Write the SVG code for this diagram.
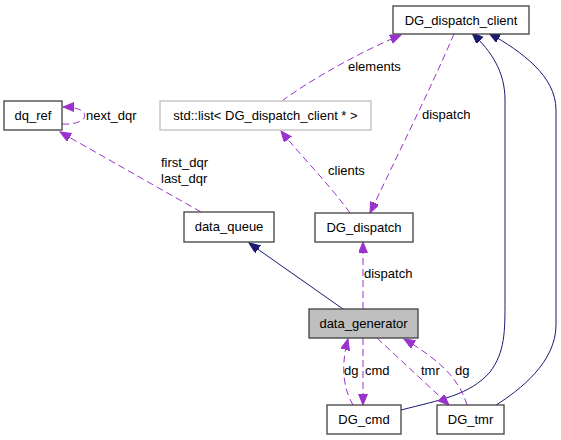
<svg xmlns="http://www.w3.org/2000/svg" width="561" height="440" viewBox="0 0 561 440">
<style>
.node rect{fill:#ffffff;stroke:#404040;stroke-width:1.3}
.node text,.lbl{font-family:"Liberation Sans",Arial,sans-serif;font-size:13px;fill:#000000}
.node text{text-anchor:middle}
.dash{fill:none;stroke:#9a32cd;stroke-width:1;stroke-dasharray:7,4;marker-end:url(#ap)}
.inh{fill:none;stroke:#191970;stroke-width:1;marker-end:url(#an)}
</style>
<defs>
<marker id="ap" markerUnits="userSpaceOnUse" markerWidth="12" markerHeight="10" refX="11" refY="4.5" orient="auto">
<path d="M0,0 L11,4.5 L0,9 z" fill="#9a32cd" stroke="#9a32cd"/>
</marker>
<marker id="an" markerUnits="userSpaceOnUse" markerWidth="12" markerHeight="10" refX="11" refY="4.5" orient="auto">
<path d="M0,0 L11,4.5 L0,9 z" fill="#191970" stroke="#191970"/>
</marker>
</defs>
<rect width="561" height="440" fill="#ffffff"/>
<g id="connectors">
<path class="dash" d="M201,212 L60,132"/>
<path class="dash" d="M62,124 C76,125 88,120 84,113 C81,109 74,107 63,107"/>
<path class="dash" d="M282,101 C310,80 360,52 401,35"/>
<path class="dash" d="M454,34 C430,90 395,160 370,213"/>
<path class="dash" d="M350,213 C330,185 300,155 281,131"/>
<path class="dash" d="M363,309 L363,242"/>
<path class="inh" d="M343,309 L249,243"/>
<path class="inh" d="M401,410 C440,400 470,395 490,372 C505,352 505,332 505,300 L505,100 C505,72 492,52 472,33"/>
<path class="inh" d="M496,405 C520,390 556,362 556,325 L556,110 C556,76 522,52 489,33"/>
<path class="dash" d="M353,405 C344,390 340,368 348,339"/>
<path class="dash" d="M363,338 L363,405"/>
<path class="dash" d="M377,338 L449,405"/>
<path class="dash" d="M467,405 C460,380 440,360 404,339"/>
<text class="lbl" x="86" y="120">next_dqr</text>
<text class="lbl" x="161" y="167">first_dqr</text>
<text class="lbl" x="161" y="183">last_dqr</text>
<text class="lbl" x="348" y="71">elements</text>
<text class="lbl" x="422" y="119">dispatch</text>
<text class="lbl" x="328" y="175">clients</text>
<text class="lbl" x="364" y="278">dispatch</text>
<text class="lbl" x="344" y="375">dg</text>
<text class="lbl" x="365" y="375">cmd</text>
<text class="lbl" x="421" y="375">tmr</text>
<text class="lbl" x="455" y="375">dg</text>
</g>
<g id="dq_ref" class="node"><rect x="4" y="101" width="58" height="29"/><text x="33" y="120">dq_ref</text></g>
<g id="std_list" class="node"><rect x="160" y="101" width="211" height="29" style="stroke:#bfbfbf"/><text x="265.5" y="120">std::list&lt; DG_dispatch_client * &gt;</text></g>
<g id="data_queue" class="node"><rect x="184" y="212" width="90" height="30"/><text x="229" y="231">data_queue</text></g>
<g id="DG_dispatch_client" class="node"><rect x="393" y="6" width="136" height="28"/><text x="461" y="25">DG_dispatch_client</text></g>
<g id="DG_dispatch" class="node"><rect x="315" y="213" width="98" height="29"/><text x="364" y="232">DG_dispatch</text></g>
<g id="data_generator" class="node"><rect x="309" y="309" width="109" height="29" style="fill:#bfbfbf"/><text x="363.5" y="328">data_generator</text></g>
<g id="DG_cmd" class="node"><rect x="327" y="405" width="74" height="29"/><text x="364" y="424">DG_cmd</text></g>
<g id="DG_tmr" class="node"><rect x="437" y="405" width="67" height="29"/><text x="470.5" y="424">DG_tmr</text></g>
</svg>
